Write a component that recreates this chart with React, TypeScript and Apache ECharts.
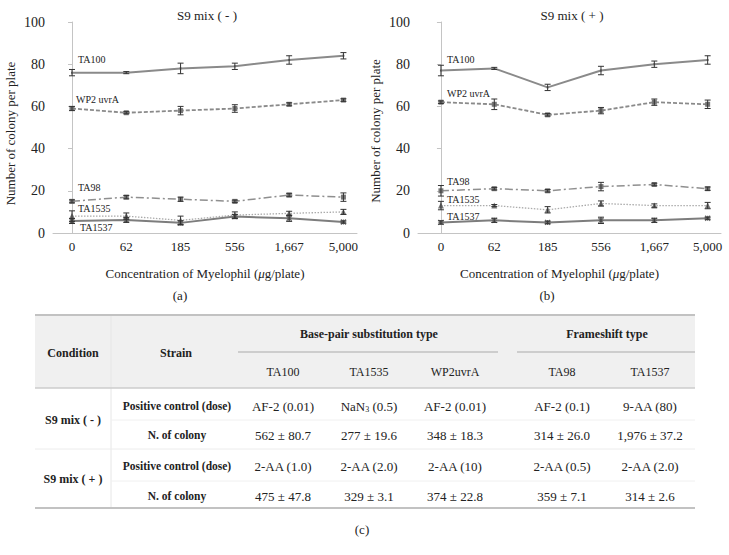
import React, { useEffect, useRef } from "react";
import * as echarts from "echarts";

const categories = ["0", "62", "185", "556", "1,667", "5,000"];
const strainNames = ["TA100", "WP2 uvrA", "TA98", "TA1535", "TA1537"];

// S9 mix (-)
const minusTA100 = [76, 76, 78, 79, 82, 84];
const minusTA100Err = [1.5, 0.5, 2.5, 1.5, 2, 1.5];
const minusWP2 = [59, 57, 58, 59, 61, 63];
const minusWP2Err = [1, 0.5, 2, 1.8, 0.7, 0.6];
const minusTA98 = [15, 17, 16, 15, 18, 17];
const minusTA98Err = [0.7, 0.8, 1, 0.6, 0.8, 2];
const minusTA1535 = [8, 8, 6, 8.5, 9.3, 10];
const minusTA1535Err = [2.5, 1.5, 2, 1.5, 1, 1.2];
const minusTA1537 = [5.7, 6.2, 4.8, 7.8, 7, 5.2];
const minusTA1537Err = [1.2, 1.2, 1, 1, 1.5, 0.5];

// S9 mix (+)
const plusTA100 = [77, 78, 69, 77, 80, 82];
const plusTA100Err = [2.5, 0.5, 1.5, 2, 1.5, 2];
const plusWP2 = [62, 61, 56, 58, 62, 61];
const plusWP2Err = [0.6, 2.5, 0.6, 1.5, 1.5, 2];
const plusTA98 = [20, 21, 20, 22, 23, 21];
const plusTA98Err = [2.5, 0.6, 0.6, 2, 0.6, 0.8];
const plusTA1535 = [13, 13, 11, 14, 13, 13];
const plusTA1535Err = [2, 0.5, 1.5, 1.2, 0.8, 1.5];
const plusTA1537 = [5, 6, 5, 6, 6, 7];
const plusTA1537Err = [0.8, 1, 0.6, 1.5, 1, 0.5];

const yTicks = [0, 20, 40, 60, 80, 100];

// Table
const tableStrains = ["TA100", "TA1535", "WP2uvrA", "TA98", "TA1537"];
const tableConditions = ["S9 mix ( - )", "S9 mix ( + )"];
const tableRowLabels = ["Positive control (dose)", "N. of colony"];
const controlMinus = ["AF-2 (0.01)", "NaN{sub|3} (0.5)", "AF-2 (0.01)", "AF-2 (0.1)", "9-AA (80)"];
const coloniesMinus = ["562 ± 80.7", "277 ± 19.6", "348 ± 18.3", "314 ± 26.0", "1,976 ± 37.2"];
const controlPlus = ["2-AA (1.0)", "2-AA (2.0)", "2-AA (10)", "2-AA (0.5)", "2-AA (2.0)"];
const coloniesPlus = ["475 ± 47.8", "329 ± 3.1", "374 ± 22.8", "359 ± 7.1", "314 ± 2.6"];

const FONT = "'Liberation Serif', 'DejaVu Serif', serif";
const ASTERISK = "path://M0,0L10,10M10,0L0,10M5,0L5,10M0,5L10,5";

type Style = {
  color: string;
  width: number;
  type: any;
  symbol: string;
  symbolSize: number;
};

const styles: Style[] = [
  { color: "#8a8a8a", width: 2, type: "solid", symbol: "rect", symbolSize: 2 },
  { color: "#8a8a8a", width: 1.8, type: [4, 2], symbol: "rect", symbolSize: 5 },
  { color: "#8f8f8f", width: 1.5, type: [8, 3, 2, 3], symbol: "rect", symbolSize: 5 },
  { color: "#ababab", width: 1.3, type: [1.5, 1.5], symbol: "triangle", symbolSize: 6 },
  { color: "#7d7d7d", width: 2, type: "solid", symbol: ASTERISK, symbolSize: 5 },
];

function lineSeries(
  idx: number,
  values: number[],
  axis: number,
  labelOffset: [number, number]
) {
  const s = styles[idx];
  return {
    type: "line",
    name: strainNames[idx],
    xAxisIndex: axis,
    yAxisIndex: axis,
    symbol: s.symbol,
    symbolSize: s.symbolSize,
    showSymbol: true,
    z: 3,
    lineStyle: { color: s.color, width: s.width, type: s.type },
    itemStyle: { color: "#777", borderColor: "#666", borderWidth: s.symbol === ASTERISK ? 1.2 : 0 },
    data: values.map((v, i) => ({
      value: [i, v],
      label:
        i === 0
          ? {
              show: true,
              formatter: strainNames[idx],
              position: "inside",
              align: "left",
              verticalAlign: "middle",
              offset: labelOffset,
              fontSize: 10,
              fontFamily: FONT,
              color: "#222",
            }
          : { show: false },
    })),
  };
}

function errorSeries(values: number[], errs: number[], axis: number) {
  return {
    type: "custom",
    xAxisIndex: axis,
    yAxisIndex: axis,
    z: 4,
    silent: true,
    data: values.map((v, i) => [i, v - errs[i], v + errs[i]]),
    renderItem: (params: any, api: any) => {
      const x = api.value(0);
      const lo = api.coord([x, api.value(1)]);
      const hi = api.coord([x, api.value(2)]);
      const w = 3;
      const st = { stroke: "#333", lineWidth: 1 };
      return {
        type: "group",
        children: [
          { type: "line", shape: { x1: lo[0], y1: lo[1], x2: hi[0], y2: hi[1] }, style: st },
          { type: "line", shape: { x1: lo[0] - w, y1: lo[1], x2: lo[0] + w, y2: lo[1] }, style: st },
          { type: "line", shape: { x1: hi[0] - w, y1: hi[1], x2: hi[0] + w, y2: hi[1] }, style: st },
        ],
      };
    },
  };
}

function xAxis(grid: number, min: number, max: number, namePad: number[]) {
  return {
    type: "value",
    gridIndex: grid,
    min,
    max,
    axisLine: { show: true, lineStyle: { color: "#c4c4c4", width: 1 } },
    axisTick: { show: false },
    splitLine: { show: false },
    axisLabel: {
      customValues: categories.map((_, i) => i),
      formatter: (v: number) => categories[Math.round(v)] ?? "",
      fontSize: 13,
      fontFamily: FONT,
      color: "#222",
      margin: 7,
    },
    name: "Concentration of Myelophil ({i|μ}g/plate)",
    nameLocation: "middle",
    nameGap: 34,
    nameTextStyle: {
      fontSize: 13,
      fontFamily: FONT,
      color: "#222",
      padding: namePad,
      rich: { i: { fontStyle: "italic", fontSize: 13, fontFamily: FONT, color: "#222" } },
    },
  };
}

function yAxis(grid: number, namePad: number[]) {
  return {
    type: "value",
    gridIndex: grid,
    min: 0,
    max: 100,
    interval: 20,
    axisLine: { show: true, lineStyle: { color: "#c4c4c4", width: 1 } },
    axisTick: { show: true, length: 4, lineStyle: { color: "#c4c4c4" } },
    splitLine: { show: false },
    axisLabel: {
      customValues: yTicks,
      fontSize: 14,
      fontFamily: FONT,
      color: "#222",
      margin: 8,
    },
    name: "Number of colony per plate",
    nameLocation: "middle",
    nameGap: 36,
    nameTextStyle: { fontSize: 13, fontFamily: FONT, color: "#222", padding: namePad },
  };
}

function txt(x: number, y: number, text: string, opts: any = {}) {
  return {
    type: "text",
    x,
    y,
    silent: true,
    style: {
      text,
      fontFamily: FONT,
      fontSize: opts.fontSize ?? 12,
      fontWeight: opts.bold ? "bold" : "normal",
      fill: "#222",
      align: opts.align ?? "center",
      verticalAlign: "middle",
      rich: opts.rich,
    },
  };
}

function hline(x1: number, x2: number, y: number, color: string, width: number) {
  return {
    type: "line",
    silent: true,
    shape: { x1, y1: y, x2, y2: y },
    style: { stroke: color, lineWidth: width },
  };
}

function buildTable() {
  const els: any[] = [];
  const left = 35;
  const right = 695;
  const top = 315;
  const headBottom = 388;
  const bottom = 508;
  els.push({
    type: "rect",
    silent: true,
    shape: { x: left, y: top, width: right - left, height: headBottom - top },
    style: { fill: "#f0f0f0" },
  });
  els.push({
    type: "line",
    silent: true,
    shape: { x1: 111, y1: top, x2: 111, y2: bottom },
    style: { stroke: "#e6e6e6", lineWidth: 1 },
  });
  els.push(hline(left, right, top, "#c2c2c2", 2));
  els.push(hline(left, right, headBottom, "#cccccc", 1.5));
  els.push(hline(left, right, bottom, "#c2c2c2", 2));
  els.push(hline(238, 498, 352, "#c2c2c2", 1.5));
  els.push(hline(517, 695, 352, "#c2c2c2", 1.5));
  els.push(hline(111, right, 420, "#f0f0f0", 1));
  els.push(hline(left, right, 449, "#ececec", 1));
  els.push(hline(111, right, 481, "#f0f0f0", 1));

  els.push(txt(73, 353, "Condition", { bold: true, fontSize: 12 }));
  els.push(txt(176, 353, "Strain", { bold: true, fontSize: 12 }));
  els.push(txt(369, 334, "Base-pair substitution type", { bold: true, fontSize: 12 }));
  els.push(txt(607, 334, "Frameshift type", { bold: true, fontSize: 12 }));

  const colX = [283, 369, 455, 562, 650];
  tableStrains.forEach((s, i) => els.push(txt(colX[i], 372, s, { fontSize: 12 })));

  const rowY = [406, 435, 466, 496];
  const rows = [controlMinus, coloniesMinus, controlPlus, coloniesPlus];
  rows.forEach((row, r) => {
    els.push(txt(177, rowY[r], tableRowLabels[r % 2], { bold: true, fontSize: 11.5 }));
    row.forEach((v, i) =>
      els.push(
        txt(colX[i], rowY[r], v, {
          fontSize: 13,
          rich: { sub: { fontSize: 8, fontFamily: FONT, fill: "#222", verticalAlign: "bottom", padding: [6, 0, 0, 0] } },
        })
      )
    );
  });
  els.push(txt(73, 420, tableConditions[0], { bold: true, fontSize: 12 }));
  els.push(txt(73, 479, tableConditions[1], { bold: true, fontSize: 12 }));
  return els;
}

export default function App() {
  const ref = useRef<HTMLDivElement>(null);
  useEffect(() => {
    document.body.style.margin = "0";
    const chart = echarts.init(ref.current!, undefined, { renderer: "svg" });
    const option: any = {
      animation: false,
      backgroundColor: "#ffffff",
      textStyle: { fontFamily: FONT },
      grid: [
        { left: 53, top: 22, width: 304, height: 211 },
        { left: 418, top: 22, width: 303, height: 211 },
      ],
      xAxis: [xAxis(0, -0.35, 5.25, [0, 0, 0, 0]), xAxis(1, -0.43, 5.25, [0, 20, 0, 0])],
      yAxis: [yAxis(0, [0, 12, 0, 0]), yAxis(1, [0, 7, 0, 0])],
      series: [
        lineSeries(0, minusTA100, 0, [6, -13]),
        lineSeries(1, minusWP2, 0, [4, -9]),
        lineSeries(2, minusTA98, 0, [6, -14]),
        lineSeries(3, minusTA1535, 0, [6, -8]),
        lineSeries(4, minusTA1537, 0, [8, 7]),
        errorSeries(minusTA100, minusTA100Err, 0),
        errorSeries(minusWP2, minusWP2Err, 0),
        errorSeries(minusTA98, minusTA98Err, 0),
        errorSeries(minusTA1535, minusTA1535Err, 0),
        errorSeries(minusTA1537, minusTA1537Err, 0),
        lineSeries(0, plusTA100, 1, [6, -11]),
        lineSeries(1, plusWP2, 1, [6, -9]),
        lineSeries(2, plusTA98, 1, [6, -9]),
        lineSeries(3, plusTA1535, 1, [6, -6]),
        lineSeries(4, plusTA1537, 1, [6, -6]),
        errorSeries(plusTA100, plusTA100Err, 1),
        errorSeries(plusWP2, plusWP2Err, 1),
        errorSeries(plusTA98, plusTA98Err, 1),
        errorSeries(plusTA1535, plusTA1535Err, 1),
        errorSeries(plusTA1537, plusTA1537Err, 1),
      ],
      graphic: [
        txt(207, 15, "S9 mix ( - )", { fontSize: 13 }),
        txt(572, 15, "S9 mix ( + )", { fontSize: 13 }),
        txt(180, 295, "(a)", { fontSize: 13 }),
        txt(547, 295, "(b)", { fontSize: 13 }),
        txt(362, 529, "(c)", { fontSize: 13 }),
        ...buildTable(),
      ],
    };
    chart.setOption(option);
    return () => chart.dispose();
  }, []);
  return (
    <div
      ref={ref}
      style={{ position: "absolute", left: 0, top: 0, width: 729, height: 555 }}
    />
  );
}
